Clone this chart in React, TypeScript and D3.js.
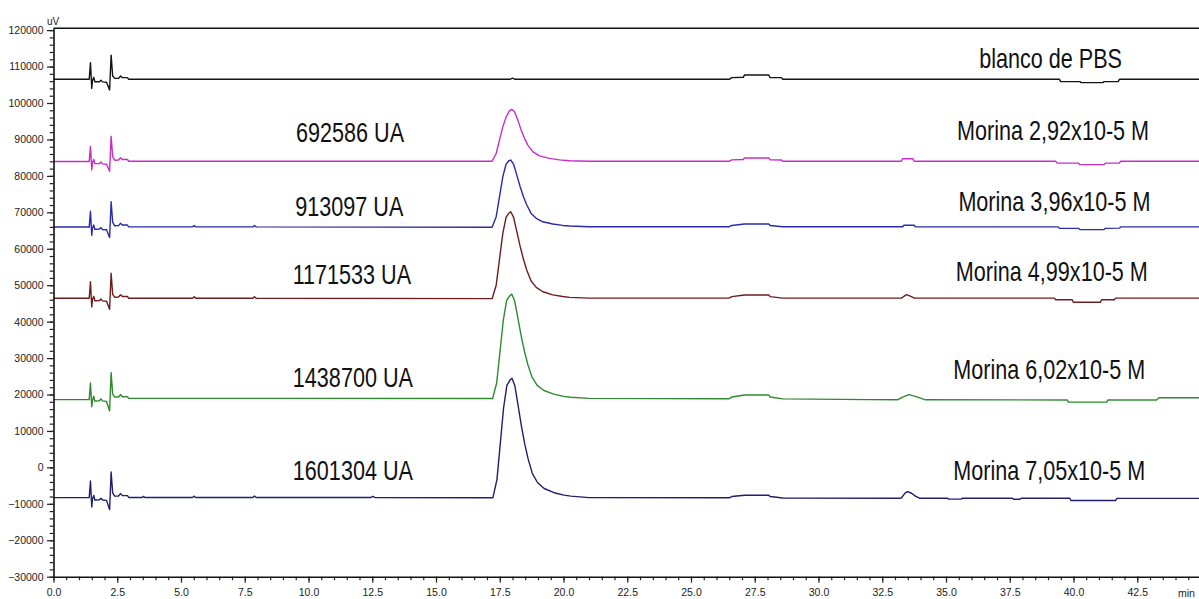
import React, { useEffect, useRef } from "react";
import * as d3 from "d3";

const W = 1199;
const H = 599;
const plot = { left: 53.5, right: 1201, top: 28.3, bottom: 576.7 };

// retention time (min) / detector signal (uV)
const timeDomain = [0, 45];
const signalDomain = [-30000, 120500];
const timeTicks = [0, 2.5, 5, 7.5, 10, 12.5, 15, 17.5, 20, 22.5, 25, 27.5, 30, 32.5, 35, 37.5, 40, 42.5];
const signalTicks = [-30000, -20000, -10000, 0, 10000, 20000, 30000, 40000, 50000, 60000, 70000, 80000, 90000, 100000, 110000, 120000];

const sampleLabels = [
  "blanco de PBS",
  "Morina 2,92x10-5 M",
  "Morina 3,96x10-5 M",
  "Morina 4,99x10-5 M",
  "Morina 6,02x10-5 M",
  "Morina 7,05x10-5 M",
];
const areaLabels = ["", "692586 UA", "913097 UA", "1171533 UA", "1438700 UA", "1601304 UA"];

type Pt = [number, number];

const blanco: Pt[] = [
  [0, 106500], [1.4, 106500], [1.45, 111050], [1.5, 104000], [1.53, 106200], [1.58, 107050],
  [1.62, 105850], [1.8, 105850], [1.86, 106250], [1.92, 105800], [2.08, 105700], [2.2, 103550],
  [2.26, 113150], [2.32, 107400], [2.4, 106750], [2.55, 106750], [2.63, 107400], [2.7, 106950],
  [2.9, 106950], [2.95, 106500], [17.9, 106500], [18.0, 106800], [18.1, 106500],
  [26.5, 106500], [26.6, 106950], [27.05, 107050], [27.1, 107700], [28.05, 107700], [28.1, 106950],
  [28.55, 106950], [28.6, 106500], [39.45, 106500], [39.5, 105870], [40.25, 105870], [40.3, 105600],
  [41.15, 105600], [41.2, 105870], [41.75, 105870], [41.8, 106500], [45, 106500],
];

const morina292: Pt[] = [
  [0, 83950], [1.4, 83950], [1.45, 88100], [1.5, 81700], [1.53, 83700], [1.58, 84500],
  [1.62, 83350], [1.8, 83400], [1.86, 83800], [1.92, 83300], [2.08, 83200], [2.2, 81250],
  [2.26, 90850], [2.32, 85300], [2.4, 84300], [2.55, 84350], [2.63, 85000], [2.7, 84500],
  [2.9, 84500], [2.95, 84000], [17.2, 84000], [17.36, 86150], [17.49, 89800], [17.62, 93450],
  [17.75, 96200], [17.88, 97850], [17.97, 98250], [18.08, 97600], [18.21, 95300], [18.34, 92550],
  [18.47, 90300], [18.6, 88450], [18.8, 86600], [19.06, 85500], [19.45, 84800], [19.84, 84400],
  [20.24, 84150], [21.0, 84000], [26.5, 84000], [26.6, 84400], [27.05, 84500], [27.1, 84900],
  [28.05, 84900], [28.1, 84400], [28.55, 84350], [28.6, 84000], [33.25, 84000], [33.3, 84700],
  [33.7, 84700], [33.75, 84000], [39.3, 84000], [39.35, 83550], [40.2, 83500], [40.25, 83100],
  [41.2, 83100], [41.25, 83500], [41.8, 83550], [41.85, 84000], [45, 84000],
];

const morina396: Pt[] = [
  [0, 65950], [1.4, 65950], [1.45, 70300], [1.5, 63700], [1.53, 65700], [1.58, 66500],
  [1.62, 65350], [1.8, 65400], [1.86, 65800], [1.92, 65300], [2.08, 65200], [2.2, 63100],
  [2.26, 72900], [2.32, 67300], [2.4, 66300], [2.55, 66350], [2.63, 67000], [2.7, 66500],
  [2.9, 66500], [2.95, 66000], [5.45, 66000], [5.52, 66350], [5.58, 66000], [7.82, 66000],
  [7.88, 66400], [7.95, 66000], [17.2, 65900], [17.36, 68800], [17.49, 74250], [17.62, 79750],
  [17.75, 83250], [17.86, 84150], [17.93, 84350], [18.04, 83250], [18.17, 80200], [18.3, 77000],
  [18.43, 74250], [18.56, 72000], [18.73, 69700], [18.93, 68350], [19.19, 67400], [19.58, 66800],
  [19.97, 66400], [20.24, 66250], [21.0, 66050], [26.5, 66050], [26.6, 66400], [27.1, 66800],
  [28.05, 66800], [28.1, 66400], [28.6, 66050], [33.3, 66050], [33.35, 66450], [33.75, 66450],
  [33.8, 66050], [39.4, 66000], [39.45, 65600], [40.2, 65600], [40.25, 65250], [41.2, 65250],
  [41.25, 65600], [41.8, 65650], [41.85, 66000], [45, 66000],
];

const morina499: Pt[] = [
  [0, 46400], [1.4, 46400], [1.45, 50950], [1.5, 44000], [1.53, 46100], [1.58, 46950],
  [1.62, 45750], [1.8, 45800], [1.86, 46200], [1.92, 45700], [2.08, 45600], [2.2, 43380],
  [2.26, 53260], [2.32, 47500], [2.4, 46700], [2.55, 46750], [2.63, 47400], [2.7, 46900],
  [2.9, 46900], [2.95, 46400], [5.45, 46400], [5.52, 46800], [5.58, 46400], [7.82, 46400],
  [7.88, 46850], [7.95, 46400], [17.2, 46300], [17.36, 50000], [17.49, 57100], [17.62, 64200],
  [17.75, 68700], [17.86, 69800], [17.93, 70150], [18.04, 68700], [18.17, 64700], [18.3, 60650],
  [18.43, 57100], [18.56, 54100], [18.73, 51150], [18.93, 49400], [19.19, 48200], [19.58, 47350],
  [19.97, 46900], [20.24, 46650], [21.0, 46450], [26.5, 46450], [26.6, 46850], [27.1, 47300],
  [28.05, 47300], [28.1, 46850], [28.6, 46450], [33.25, 46450], [33.35, 46950], [33.45, 47400],
  [33.6, 47000], [33.76, 46450], [39.25, 46450], [39.3, 46000], [39.95, 46000], [40.0, 45300],
  [41.05, 45300], [41.1, 46000], [41.6, 46000], [41.65, 46450], [45, 46450],
];

const morina602: Pt[] = [
  [0, 18600], [1.4, 18600], [1.45, 23150], [1.5, 16650], [1.53, 18400], [1.58, 19500],
  [1.62, 18200], [1.8, 18300], [1.86, 18800], [1.92, 18250], [2.08, 18100], [2.2, 15550],
  [2.26, 26000], [2.32, 20100], [2.4, 19300], [2.55, 19300], [2.63, 20000], [2.7, 19400],
  [2.9, 19400], [2.95, 18950], [17.22, 18900], [17.38, 23200], [17.51, 31800], [17.64, 40400],
  [17.77, 45800], [17.89, 47100], [17.97, 47550], [18.08, 45800], [18.21, 41000], [18.34, 36100],
  [18.47, 31800], [18.6, 28250], [18.77, 24700], [18.97, 22500], [19.23, 21100], [19.62, 20100],
  [20.01, 19500], [20.28, 19250], [21.0, 18950], [26.5, 18850], [26.6, 19300], [27.1, 19850],
  [28.05, 19850], [28.1, 19300], [28.6, 18800], [32.0, 18600], [33.1, 18550], [33.3, 19300],
  [33.55, 19950], [33.8, 19500], [34.2, 18550], [39.75, 18500], [39.8, 17900], [41.3, 17900],
  [41.35, 18500], [43.25, 18500], [43.35, 19100], [45, 19100],
];

const morina705: Pt[] = [
  [0, -8300], [1.4, -8300], [1.45, -3750], [1.5, -10880], [1.53, -8600], [1.58, -7700],
  [1.62, -8950], [1.8, -8900], [1.86, -8450], [1.92, -8950], [2.08, -9050], [2.2, -11590],
  [2.26, -1280], [2.32, -7000], [2.4, -7900], [2.55, -7850], [2.63, -7200], [2.7, -7750],
  [2.9, -7750], [2.95, -8250], [3.48, -8250], [3.53, -7950], [3.58, -8250], [5.45, -8250],
  [5.52, -7900], [5.58, -8250], [7.82, -8250], [7.88, -7850], [7.95, -8250], [12.45, -8250],
  [12.52, -7950], [12.6, -8250], [17.23, -8350], [17.39, -3350], [17.52, 6450], [17.65, 16300],
  [17.78, 22500], [17.9, 23950], [17.98, 24450], [18.09, 22500], [18.22, 16950], [18.35, 11350],
  [18.48, 6450], [18.61, 2400], [18.78, -1700], [18.98, -4150], [19.24, -5800], [19.63, -6950],
  [20.02, -7600], [20.29, -7900], [21.0, -8300], [26.5, -8350], [26.6, -8000], [27.1, -7650],
  [28.05, -7650], [28.1, -8000], [28.6, -8400], [33.2, -8450], [33.25, -8400], [33.4, -7000],
  [33.5, -6650], [33.65, -7100], [33.8, -7900], [33.96, -8450], [35.05, -8450], [35.1, -8700],
  [35.6, -8700], [35.65, -8450], [37.6, -8450], [37.65, -8750], [37.9, -8750], [37.95, -8450],
  [39.85, -8450], [39.9, -9100], [41.65, -9100], [41.7, -8500], [45, -8500],
];

const traces = [blanco, morina292, morina396, morina499, morina602, morina705];
const traceColors = ["#141414", "#c62cc6", "#2b2ba8", "#6e1c1c", "#2f8a2f", "#1f1f6e"];

// label anchors in data units: [time, signal]
const sampleLabelAt: Pt[] = [[39.1, 109600], [39.2, 89820], [39.25, 70340], [39.15, 51140], [39.05, 24250], [39.05, -3460]];
const areaLabelAt: Pt[] = [[0, 0], [11.63, 89270], [11.6, 68970], [11.7, 50315], [11.74, 22055], [11.74, -3460]];

const labelFont = "'Liberation Sans', Arial, sans-serif";

export default function App() {
  const xAxisRef = useRef<SVGGElement>(null);
  const xMinorRef = useRef<SVGGElement>(null);
  const yAxisRef = useRef<SVGGElement>(null);
  const yMinorRef = useRef<SVGGElement>(null);

  const x = d3.scaleLinear().domain(timeDomain).range([plot.left, plot.right]);
  const y = d3.scaleLinear().domain(signalDomain).range([plot.bottom, plot.top]);
  const line = d3
    .line<Pt>()
    .x(d => x(d[0]))
    .y(d => y(d[1]));

  useEffect(() => {
    const gx = d3.select(xAxisRef.current!);
    gx.call(
      d3
        .axisBottom(x)
        .tickValues(timeTicks)
        .tickSize(6)
        .tickSizeOuter(0)
        .tickPadding(6)
        .tickFormat(d3.format(".1f"))
    );
    const gxm = d3.select(xMinorRef.current!);
    gxm.call(
      d3
        .axisBottom(x)
        .tickValues(d3.range(0, 45.01, 0.5))
        .tickSize(3.5)
        .tickFormat(() => "")
    );
    gxm.select(".domain").remove();

    const gy = d3.select(yAxisRef.current!);
    gy.call(
      d3
        .axisLeft(y)
        .tickValues(signalTicks)
        .tickSize(6.5)
        .tickSizeOuter(0)
        .tickPadding(3.5)
        .tickFormat(d3.format("d"))
    );
    const gym = d3.select(yMinorRef.current!);
    gym.call(
      d3
        .axisLeft(y)
        .tickValues(d3.range(-30000, 120001, 2000))
        .tickSize(3.8)
        .tickFormat(() => "")
    );
    gym.select(".domain").remove();

    [gx, gy].forEach(g => {
      g.attr("font-family", labelFont).attr("font-size", 10.5);
      g.selectAll("text").attr("fill", "#222");
      g.select(".domain").attr("stroke", "#111").attr("stroke-width", 1.6);
    });
    [gx, gxm, gy, gym].forEach(g => g.selectAll(".tick line").attr("stroke", "#222").attr("stroke-width", 1.2));
  }, []);

  return (
    <svg width={W} height={H} style={{ position: "absolute", left: 0, top: 0, background: "#fff" }}>
      <rect x={0} y={0} width={W} height={H} fill="#fff" />
      <line x1={plot.left} x2={W} y1={plot.top} y2={plot.top} stroke="#111" strokeWidth={1.6} />
      {traces.map((pts, i) => (
        <path key={i} d={line(pts) || ""} fill="none" stroke={traceColors[i]} strokeWidth={1.4} strokeLinejoin="round" />
      ))}
      <g ref={xMinorRef} transform={`translate(0,${plot.bottom})`} />
      <g ref={xAxisRef} transform={`translate(0,${plot.bottom})`} />
      <g ref={yMinorRef} transform={`translate(${plot.left},0)`} />
      <g ref={yAxisRef} transform={`translate(${plot.left},0)`} />
      <text x={47} y={25} fontFamily={labelFont} fontSize={10} fill="#222">uV</text>
      <text x={1178} y={597} fontFamily={labelFont} fontSize={10.5} fill="#222">min</text>
      {sampleLabels.map((s, i) => (
        <text
          key={s}
          transform={`translate(${x(sampleLabelAt[i][0])},${y(sampleLabelAt[i][1])}) scale(0.8,1)`}
          textAnchor="middle"
          fontFamily={labelFont}
          fontSize={27}
          fill="#111"
        >
          {s}
        </text>
      ))}
      {areaLabels.map((s, i) =>
        s ? (
          <text
            key={s}
            transform={`translate(${x(areaLabelAt[i][0])},${y(areaLabelAt[i][1])}) scale(0.8,1)`}
            textAnchor="middle"
            fontFamily={labelFont}
            fontSize={27}
            fill="#111"
          >
            {s}
          </text>
        ) : null
      )}
    </svg>
  );
}
